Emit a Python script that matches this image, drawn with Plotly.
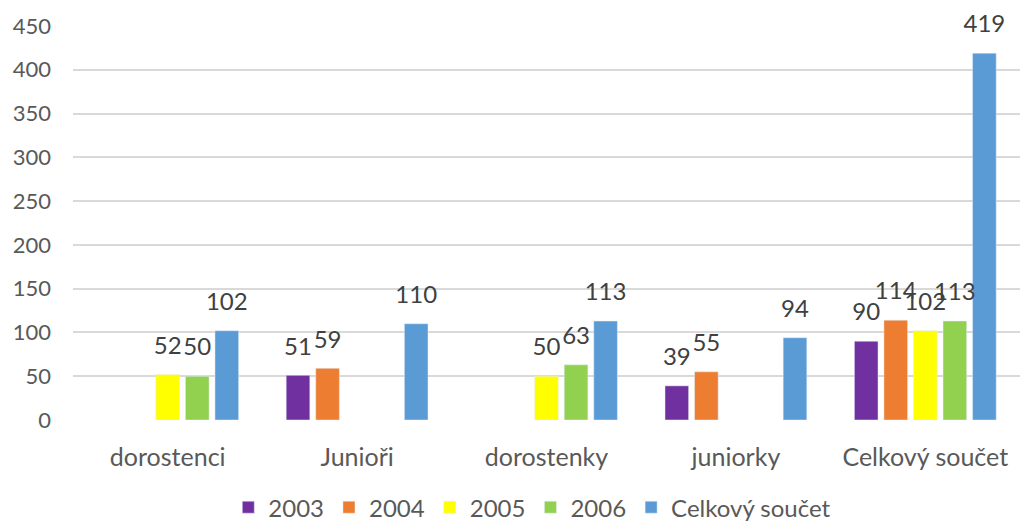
import plotly.graph_objects as go

categories = ["dorostenci", "Junioři", "dorostenky", "juniorky", "Celkový součet"]
series_names = ["2003", "2004", "2005", "2006", "Celkový součet"]
v2003 = [None, 51, None, 39, 90]
v2004 = [None, 59, None, 55, 114]
v2005 = [52, None, 50, None, 102]
v2006 = [50, None, 63, None, 113]
vtotal = [102, 110, 113, 94, 419]
y_ticks = [0, 50, 100, 150, 200, 250, 300, 350, 400, 450]

colors = ["#7030A0", "#ED7D31", "#FFFF00", "#92D050", "#5B9BD5"]
all_values = [v2003, v2004, v2005, v2006, vtotal]

FONT = "Lato"
GAP = 0.22
fig = go.Figure()
for name, vals, col in zip(series_names, all_values, colors):
    fig.add_trace(go.Bar(
        name=name, x=categories, y=vals, marker_color=col,
    ))
# data labels, grouped like the bars
for name, vals in zip(series_names, all_values):
    fig.add_trace(go.Scatter(
        x=categories, y=vals, mode="markers+text",
        text=[("" if v is None else str(v)) for v in vals],
        textposition="top center", cliponaxis=False,
        marker=dict(size=22, opacity=0), showlegend=False, hoverinfo="skip",
        textfont=dict(family=FONT, size=24, color="#404040"),
    ))

fig.update_layout(
    barmode="group", bargap=GAP, bargroupgap=0.2,
    scattermode="group", scattergap=GAP,
    width=1023, height=526,
    margin=dict(l=73, r=3, t=26, b=106),
    paper_bgcolor="white", plot_bgcolor="white",
    font=dict(family=FONT, color="#595959", size=21),
    showlegend=True,
    legend=dict(orientation="h", x=0.485, xanchor="center",
                yref="container", y=0.035, yanchor="middle",
                font=dict(family=FONT, size=24, color="#595959")),
    yaxis=dict(range=[0, 450], tickvals=y_ticks, showgrid=True, gridcolor="#D9D9D9",
               gridwidth=1.5, zeroline=False, showline=False, ticks="",
               tickfont=dict(family=FONT, size=22, color="#595959"), ticklabelstandoff=21),
    xaxis=dict(showline=False, ticks="", tickfont=dict(family=FONT, size=25, color="#595959"),
               ticklabelstandoff=20),
)
fig.write_html("out.html", config={"displayModeBar": False},
               post_script="document.body.style.margin='0';")
